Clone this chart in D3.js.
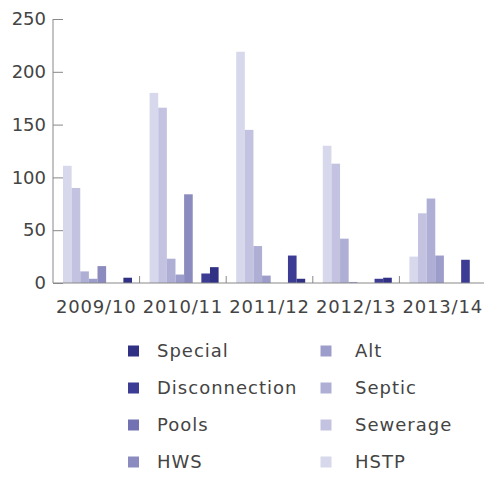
<!DOCTYPE html>
<html>
<head>
<meta charset="utf-8">
<script src="https://cdn.jsdelivr.net/npm/d3@7"></script>
<style>
  body { margin: 0; background: #fff; }
  svg text { font-family: "DejaVu Sans", sans-serif; fill: #444; }
</style>
</head>
<body>
<svg width="484" height="479"></svg>
<script>
// Data
const years = ["2009/10", "2010/11", "2011/12", "2012/13", "2013/14"];
const seriesNames = ["HSTP", "Sewerage", "Septic", "Alt", "HWS", "Pools", "Disconnection", "Special"];
const HSTP = [111, 180, 219, 130, 25];
const Sewerage = [90, 166, 145, 113, 66];
const Septic = [11, 23, 35, 42, 80];
const Alt = [4, 8, 7, 1, 26];
const HWS = [16, 84, 0, 0, 0];
const Pools = [0, 0, 0, 0, 0];
const Disconnection = [0, 9, 26, 4, 22];
const Special = [5, 15, 4, 5, 0];
const yTicks = [0, 50, 100, 150, 200, 250];

const values = { HSTP, Sewerage, Septic, Alt, HWS, Pools, Disconnection, Special };
const colors = {
  HSTP: "#d8d8ec",
  Sewerage: "#c3c3e1",
  Septic: "#afafd6",
  Alt: "#9d9dcb",
  HWS: "#8b8bbf",
  Pools: "#7272b2",
  Disconnection: "#3c3c94",
  Special: "#303084"
};
// legend layout order (two columns)
const legendOrder = ["Special", "Disconnection", "Pools", "HWS", "Alt", "Septic", "Sewerage", "HSTP"];

const svg = d3.select("svg");
const plotLeft = 53, plotRight = 486, plotTop = 19, plotBottom = 283;

const x0 = d3.scaleBand().domain(years).range([plotLeft, plotRight]).padding(0);
const x1 = d3.scaleBand().domain(seriesNames).range([10, 79]).padding(0);
const y = d3.scaleLinear().domain([0, 250]).range([plotBottom, plotTop]);

// bars
const groups = svg.append("g")
  .selectAll("g")
  .data(years)
  .enter()
  .append("g")
  .attr("transform", (d) => "translate(" + x0(d) + ",0)");

groups.selectAll("rect")
  .data((d, i) => seriesNames.map((s) => ({ key: s, value: values[s][i] })))
  .enter()
  .append("rect")
  .attr("x", (d) => x1(d.key))
  .attr("width", x1.bandwidth())
  .attr("y", (d) => y(d.value))
  .attr("height", (d) => plotBottom - y(d.value))
  .attr("fill", (d) => colors[d.key]);

// y axis
const yAxis = svg.append("g")
  .attr("transform", "translate(" + plotLeft + ",0)")
  .call(d3.axisLeft(y).tickValues(yTicks).tickSize(-10).tickPadding(7));
yAxis.select(".domain").attr("stroke", "#888").attr("d", "M0," + plotTop + "V" + plotBottom);
yAxis.selectAll(".tick line").attr("stroke", "#888");
yAxis.selectAll(".tick text").attr("font-size", 18).attr("fill", "#444");

// x axis
const xAxis = svg.append("g")
  .attr("transform", "translate(0," + plotBottom + ")")
  .call(d3.axisBottom(x0).tickSize(0).tickPadding(17));
xAxis.select(".domain").attr("stroke", "#888").attr("d", "M" + plotLeft + ",0H" + 484);
xAxis.selectAll(".tick text")
  .attr("font-size", 18)
  .attr("letter-spacing", 0.8)
  .attr("fill", "#444");
// boundary ticks between categories
svg.append("g")
  .selectAll("line")
  .data(years.slice(1))
  .enter()
  .append("line")
  .attr("x1", (d) => x0(d))
  .attr("x2", (d) => x0(d))
  .attr("y1", plotBottom)
  .attr("y2", plotBottom - 7)
  .attr("stroke", "#888");

// legend
const legend = svg.append("g")
  .selectAll("g")
  .data(legendOrder)
  .enter()
  .append("g")
  .attr("transform", (d, i) => {
    const col = Math.floor(i / 4), row = i % 4;
    return "translate(" + (col === 0 ? 133.5 : 326) + "," + (351 + row * 37) + ")";
  });
legend.append("rect")
  .attr("x", -5.5)
  .attr("y", -5.5)
  .attr("width", 11)
  .attr("height", 11)
  .attr("fill", (d) => colors[d]);
legend.append("text")
  .attr("x", (d, i) => (i < 4 ? 23.5 : 29))
  .attr("y", 0)
  .attr("dy", "0.35em")
  .attr("font-size", 18)
  .attr("letter-spacing", 1)
  .text((d) => d);
</script>
</body>
</html>
